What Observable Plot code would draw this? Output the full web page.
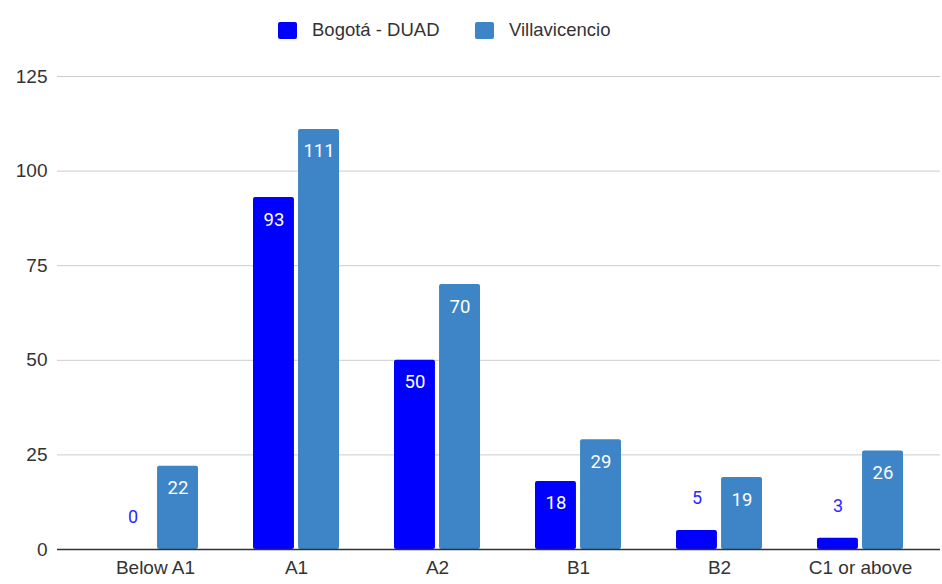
<!DOCTYPE html>
<html>
<head>
<meta charset="utf-8">
<script src="https://cdn.jsdelivr.net/npm/d3@7"></script>
<script src="https://cdn.jsdelivr.net/npm/@observablehq/plot@0.6"></script>
<style>
  html, body { margin: 0; padding: 0; background: #fff; }
  #chart { width: 942px; font-family: "Liberation Sans", Arial, sans-serif; }
  .legend { height: 60px; position: relative; }
  .legend .item { position: absolute; top: 20px; display: flex; align-items: center; font-size: 18.5px; color: #333; height: 20px; }
  .legend .swatch { width: 19px; height: 17px; border-radius: 2px; margin-right: 15px; }
</style>
</head>
<body>
<div id="chart"></div>
<script>
// CEFR levels and the number of people at each level, per city
const levels = ["Below A1", "A1", "A2", "B1", "B2", "C1 or above"];
const seriesNames = ["Bogotá - DUAD", "Villavicencio"];
const bogota = [0, 93, 50, 18, 5, 3];
const villavicencio = [22, 111, 70, 29, 19, 26];
const yTicks = [0, 25, 50, 75, 100, 125];
const colors = ["#0000ff", "#3d85c6"];

const rows = levels.flatMap((level, i) => [
  {level, series: seriesNames[0], value: bogota[i]},
  {level, series: seriesNames[1], value: villavicencio[i]}
]);

const bw = 86.1;          // band width of one group
const half = bw / 2 + 2;  // inset that leaves one bar per half with a small gap
const shift = 22.5;       // horizontal offset from group centre to bar centre
const outside = d => d.value < 10;

const chart = document.getElementById("chart");

// Legend
const legend = document.createElement("div");
legend.className = "legend";
const legendX = [278, 475];
seriesNames.forEach((name, i) => {
  const item = document.createElement("div");
  item.className = "item";
  item.style.left = legendX[i] + "px";
  const sw = document.createElement("div");
  sw.className = "swatch";
  sw.style.background = colors[i];
  const label = document.createElement("span");
  label.textContent = name;
  item.append(sw, label);
  legend.append(item);
});
chart.append(legend);

const bars = (name, i) => Plot.barY(rows.filter(d => d.series === name), {
  x: "level",
  y: "value",
  fill: colors[i],
  rx: 2,
  insetLeft: i === 0 ? 0 : half,
  insetRight: i === 0 ? half : 0
});

const labels = (name, i) => [
  Plot.text(rows.filter(d => d.series === name && !outside(d)), {
    x: "level", y: "value", text: d => String(d.value),
    dx: i === 0 ? -shift : shift, dy: 22,
    fill: "#ffffff", fontSize: 18.5, fontFamily: "Roboto, sans-serif"
  }),
  Plot.text(rows.filter(d => d.series === name && outside(d)), {
    x: "level", y: "value", text: d => String(d.value),
    dx: i === 0 ? -shift : shift, dy: -32,
    fill: i === 0 ? "#2a2aff" : colors[1], fontSize: 18, fontFamily: "Roboto, sans-serif"
  })
];

const plot = Plot.plot({
  width: 942,
  height: 524,
  marginTop: 16,
  marginBottom: 35,
  marginLeft: 57,
  marginRight: 2,
  style: {fontFamily: "Liberation Sans, Arial, sans-serif", background: "#fff"},
  x: {domain: levels, range: [82, 933], paddingInner: 0.393, paddingOuter: 0.1965, label: null},
  y: {domain: [0, 125], label: null},
  marks: [
    Plot.gridY(yTicks.filter(t => t > 0), {stroke: "#cccccc", strokeOpacity: 1}),
    Plot.axisY(yTicks, {tickSize: 0, tickPadding: 10, fontSize: 19, fill: "#333", label: null}),
    Plot.axisX({tickSize: 0, tickPadding: 11, fontSize: 19, fill: "#333", label: null}),
    ...seriesNames.map(bars),
    ...seriesNames.flatMap(labels),
    Plot.ruleY([0], {stroke: "#333", strokeWidth: 1.5})
  ]
});
chart.append(plot);
</script>
</body>
</html>
